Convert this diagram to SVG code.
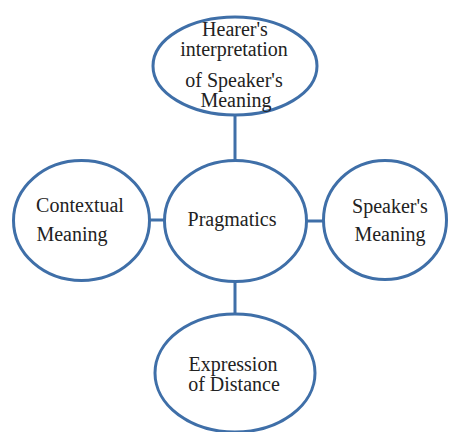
<svg xmlns="http://www.w3.org/2000/svg" width="450" height="432" viewBox="0 0 450 432">
<style>
.n{fill:#fff;stroke:#3F6FA8;stroke-width:3}
.c{stroke:#3F6FA8;stroke-width:3;fill:none}
text{font-family:"Liberation Serif","Times New Roman",serif;font-size:20px;fill:#222;text-anchor:middle}
</style>
<rect width="450" height="432" fill="#fff"/>
<g id="connectors">
<line class="c" x1="235" y1="114" x2="235" y2="161"/>
<line class="c" x1="149" y1="220" x2="165" y2="220"/>
<line class="c" x1="306" y1="221" x2="324" y2="221"/>
<line class="c" x1="235" y1="281" x2="235" y2="314"/>
</g>
<g id="hearer">
<ellipse class="n" cx="235" cy="66" rx="82" ry="49"/>
<text x="235" y="36">Hearer's</text>
<text x="234" y="56">interpretation</text>
<text x="234" y="87">of Speaker's</text>
<text x="236" y="107">Meaning</text>
</g>
<g id="pragmatics">
<ellipse class="n" cx="235.5" cy="221" rx="71" ry="60.5"/>
<text x="232" y="226">Pragmatics</text>
</g>
<g id="contextual">
<ellipse class="n" cx="81.5" cy="220.5" rx="68" ry="60"/>
<text x="80" y="212">Contextual</text>
<text x="72" y="241">Meaning</text>
</g>
<g id="speaker">
<ellipse class="n" cx="385" cy="220" rx="61.5" ry="59.5"/>
<text x="390" y="213">Speaker's</text>
<text x="390" y="241">Meaning</text>
</g>
<g id="distance">
<ellipse class="n" cx="235" cy="373" rx="80" ry="59"/>
<text x="233" y="371">Expression</text>
<text x="234" y="391">of Distance</text>
</g>
</svg>
